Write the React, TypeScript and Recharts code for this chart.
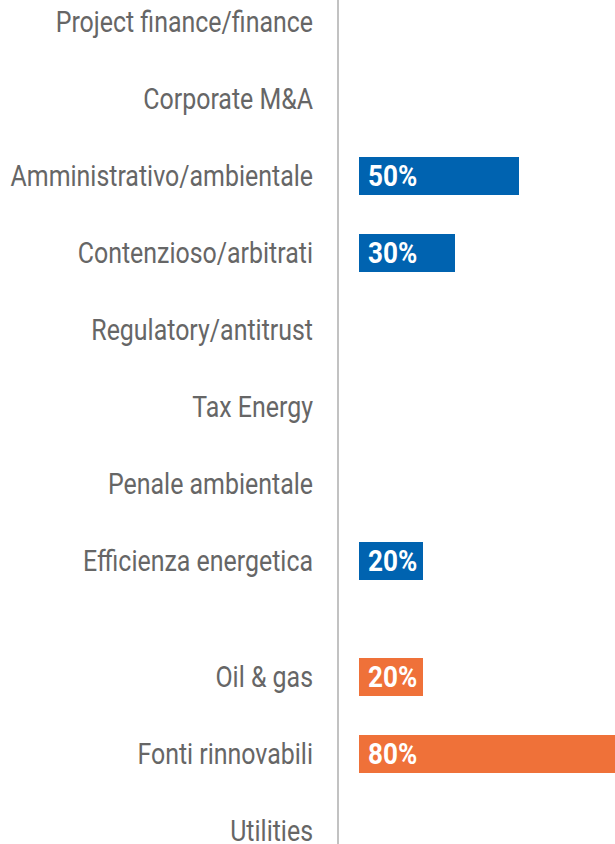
import React from "react";
import { BarChart, Bar, XAxis, YAxis, LabelList } from "recharts";

// Practice areas (top group) and sectors (bottom group)
const areaLabels = [
  "Project finance/finance",
  "Corporate M&A",
  "Amministrativo/ambientale",
  "Contenzioso/arbitrati",
  "Regulatory/antitrust",
  "Tax Energy",
  "Penale ambientale",
  "Efficienza energetica",
];
const areaValues = [null, null, 50, 30, null, null, null, 20];

const sectorLabels = ["Oil & gas", "Fonti rinnovabili", "Utilities"];
const sectorValues = [20, 80, null];

const BLUE = "#0063B0";
const ORANGE = "#EF7139";
const AXIS = "#c2c2c2";
const FONT = "Roboto, sans-serif";
const SX = 0.86; // squeeze to mimic the condensed face

const ROW = 77;
const AXIS_W = 338;
const CHART_W = 615;

const toRows = (labels: string[], values: (number | null)[]) =>
  labels.map((name, i) => ({ name, value: values[i] }));

const areaData = toRows(areaLabels, areaValues);
const sectorData = toRows(sectorLabels, sectorValues);

const Tick = ({ x, y, payload }: any) => (
  <text
    transform={`translate(${x},${y}) scale(${SX},1)`}
    textAnchor="end"
    dy="0.355em"
    fill="#666"
    fontSize={29}
    fontFamily={FONT}
  >
    {payload.value}
  </text>
);

const BarLabel = ({ x, y, height, value }: any) => {
  if (!value) return null;
  return (
    <text
      transform={`translate(${Number(x) + 9},${Number(y) + Number(height) / 2}) scale(0.9,1)`}
      dy="0.355em"
      fill="#fff"
      fontSize={29}
      fontWeight={700}
      fontFamily={FONT}
    >
      {`${value}%`}
    </text>
  );
};

const Group = ({ data, color }: { data: any[]; color: string }) => (
  <BarChart
    width={CHART_W}
    height={data.length * ROW}
    data={data}
    layout="vertical"
    margin={{ top: 0, right: 0, bottom: 0, left: 0 }}
  >
    <XAxis type="number" hide domain={[0, 80]} padding={{ left: 21, right: 0 }} />
    <YAxis
      type="category"
      dataKey="name"
      width={AXIS_W}
      tickLine={false}
      tickSize={0}
      tickMargin={25}
      axisLine={{ stroke: AXIS, strokeWidth: 2 }}
      tick={<Tick />}
      interval={0}
    />
    <Bar dataKey="value" barSize={38} fill={color} isAnimationActive={false}>
      <LabelList dataKey="value" content={<BarLabel />} />
    </Bar>
  </BarChart>
);

const App: React.FC = () => {
  const topY = -17;
  const gapTop = topY + areaData.length * ROW;
  const bottomY = gapTop + ROW / 2;
  return (
    <div
      style={{
        position: "absolute",
        left: 0,
        top: 0,
        width: CHART_W,
        height: 844,
        overflow: "hidden",
        background: "#fff",
      }}
    >
      <div style={{ position: "absolute", left: 0, top: topY }}>
        <Group data={areaData} color={BLUE} />
      </div>
      <div
        style={{
          position: "absolute",
          left: AXIS_W - 1,
          top: gapTop,
          width: 2,
          height: bottomY - gapTop,
          background: AXIS,
        }}
      />
      <div style={{ position: "absolute", left: 0, top: bottomY }}>
        <Group data={sectorData} color={ORANGE} />
      </div>
    </div>
  );
};

export default App;
